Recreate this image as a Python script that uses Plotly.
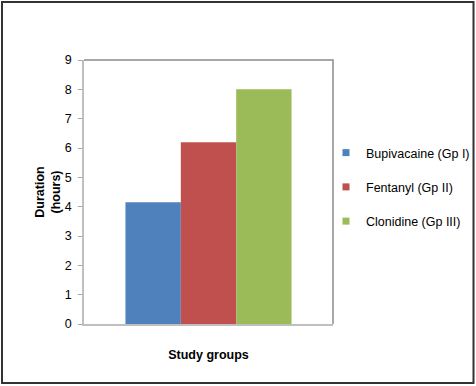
import plotly.graph_objects as go

groups = ["Bupivacaine (Gp I)", "Fentanyl (Gp II)", "Clonidine (Gp III)"]
durations = [4.15, 6.2, 8.0]
colors = ["#4F81BD", "#C0504D", "#9BBB59"]
category = ["Study groups"]
y_ticks = [0, 1, 2, 3, 4, 5, 6, 7, 8, 9]

W, H = 476, 386
L, R, T, B = 84, 143, 60, 62
pw, ph = W - L - R, H - T - B

def px(x):
    return (x - L) / pw

def py(y):
    return (H - B - y) / ph

fig = go.Figure()
for name, val, col in zip(groups, durations, colors):
    fig.add_trace(go.Bar(
        x=category, y=[val], name=name, marker_color=col,
        marker_line_width=0, legendgroup=name, showlegend=False,
    ))
    # legend entry with a small square key
    fig.add_trace(go.Scatter(
        x=[None], y=[None], mode="markers", name=name, legendgroup=name,
        marker=dict(symbol="square", size=7, color=col), showlegend=True,
    ))

font = "Liberation Sans, Arial, sans-serif"
FS = 12.5
fig.update_layout(
    width=W, height=H,
    margin=dict(l=L, r=R, t=T, b=B, autoexpand=False),
    paper_bgcolor="white", plot_bgcolor="white",
    barmode="group", bargap=0.333, bargroupgap=0,
    font=dict(family=font, size=FS, color="#000000"),
    showlegend=True,
    legend=dict(
        x=px(326), y=py(138), xanchor="left", yanchor="top",
        font=dict(size=FS, family=font), tracegroupgap=15,
        itemwidth=30, bgcolor="rgba(0,0,0,0)",
    ),
    xaxis=dict(
        showticklabels=False, ticks="", showgrid=False,
        showline=True, linecolor="#BFBFBF", linewidth=1.5,
        title=dict(text="<b>Study groups</b>", font=dict(size=FS), standoff=25),
    ),
    yaxis=dict(
        range=[0, 9], tickvals=y_ticks, ticks="outside", ticklen=4,
        tickcolor="#A6A6A6", showgrid=False, zeroline=False,
        showline=True, linecolor="#BFBFBF", linewidth=1.5,
        tickfont=dict(size=FS), ticklabelstandoff=4,
        title=dict(text="<b>Duration<br>(hours)</b>", font=dict(size=FS), standoff=1),
    ),
)

# plot area border (top and right)
fig.add_shape(type="path", xref="paper", yref="paper",
              path="M 0,1 L 1,1 L 1,0", line=dict(color="#8C8C8C", width=1.5))
# outer chart frame
fig.add_shape(type="rect", xref="paper", yref="paper",
              x0=px(2), x1=px(473.5), y0=py(383), y1=py(2),
              line=dict(color="#333333", width=2))

fig.write_html("out.html", config={"displayModeBar": False},
               post_script="document.body.style.margin='0';")
